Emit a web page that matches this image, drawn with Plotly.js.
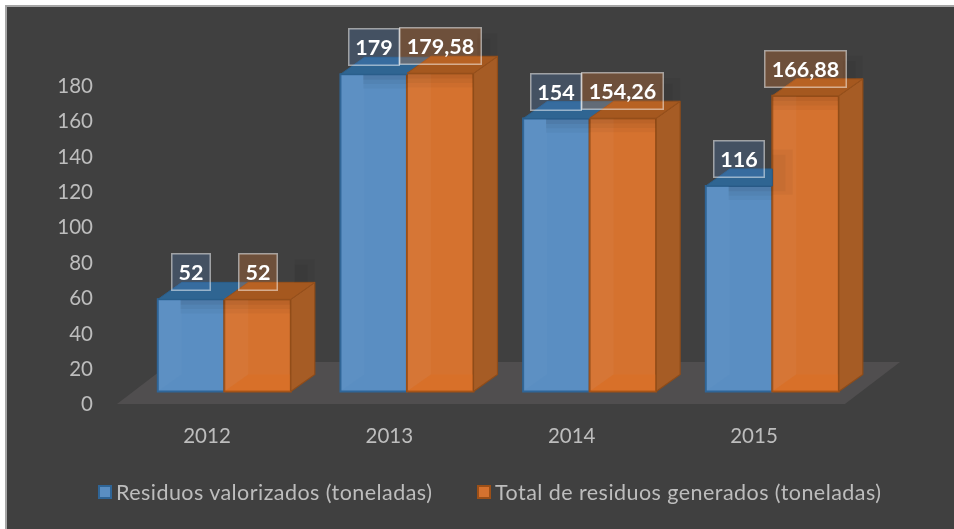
<!DOCTYPE html>
<html><head><meta charset="utf-8">
<script src="https://cdn.plot.ly/plotly-3.0.1.min.js"></script>
<style>html,body{margin:0;padding:0;background:#fff}#c{width:954px;height:529px;filter:blur(0.4px)}.legendtext{letter-spacing:0.45px}</style>
</head><body><div id="c"></div>
<script>
const years = ["2012","2013","2014","2015"];
const seriesA = "Residuos valorizados (toneladas)";
const seriesB = "Total de residuos generados (toneladas)";
const valorizados = [52,179,154,116];
const totales = [52,179.58,154.26,166.88];
const labelsA = ["52","179","154","116"];
const labelsB = ["52","179,58","154,26","166,88"];
const yTicks = [0,20,40,60,80,100,120,140,160,180];

const W=954,H=529, FONT='Lato, Carlito, sans-serif', TXT='#bdbdbd';
// front-plane scale vs. floor-edge scale (Excel 3-D projection)
const axisY0=404, barY0=391.5, axisPx=1.767, barPx=1.772;
const tickX0=207, tickStep=182.33, barX0=224.3, barStep=182.67;
const hw=66.5/barStep, dx=24/barStep, dy=17/barPx;
const x=years.map((_,i)=>i);
function poly(list){const X=[],Y=[];list.forEach(p=>{p.forEach(q=>{X.push(q[0]);Y.push(q[1]);});X.push(p[0][0]);Y.push(p[0][1]);X.push(null);Y.push(null);});return {x:X,y:Y};}
function face(list,fill,line,w){const d=poly(list);return {type:'scatter',mode:'lines',x:d.x,y:d.y,xaxis:'x2',yaxis:'y2',fill:'toself',fillcolor:fill,line:{color:line||'rgba(0,0,0,0)',width:w||0},hoverinfo:'skip',showlegend:false};}
function rect(a,b,c,d){return [[a,c],[b,c],[b,d],[a,d]];}

const blueTop=[],orangeTop=[],orangeSide=[],leftA=[],leftB=[],bottomB=[];
const shade1=[],shade2=[],shade3=[],halo1=[],halo2=[];
x.forEach(i=>{
  const va=valorizados[i],vb=totales[i],xl=i-hw,xm=i,xr=i+hw;
  const clipped=(vb-va>=dy);
  blueTop.push(clipped?[[xl,va],[xl+dx,va+dy],[xm,va+dy],[xm,va]]:[[xl,va],[xl+dx,va+dy],[xm+dx,va+dy],[xm,va]]);
  orangeTop.push([[xm,vb],[xm+dx,vb+dy],[xr+dx,vb+dy],[xr,vb]]);
  orangeSide.push([[xr,0],[xr+dx,dy],[xr+dx,vb+dy],[xr,vb]]);
  leftA.push([[xl,0],[xl+dx,dy],[xl+dx,va],[xl,va]]);
  leftB.push([[xm,0],[xm+dx,dy],[xm+dx,vb],[xm,vb]]);
  bottomB.push([[xm,0],[xm+dx,dy],[xr,dy],[xr,0]]);
  // soft label shadows, stepped
  [[shade1,3],[shade2,5.5],[shade3,8]].forEach(([arr,s])=>{
    arr.push(rect(xl+dx*0.95,xm,va,va-s));
    arr.push(rect(xm,xr,vb,vb-s));
  });
  halo1.push(rect(xr+0.02,xr+dx,vb+dy,vb+dy+13));
  halo2.push(rect(xr+0.02,xr+dx*0.7,vb+dy,vb+dy+10));
  if(clipped){
    halo1.push(rect(xm,xm+dx*0.85,va-5,va+dy+11));
    halo2.push(rect(xm,xm+dx*0.55,va-3,va+dy+8));
  }
});

const traces=[
 {type:'bar',name:seriesA,x:x,y:valorizados,xaxis:'x2',yaxis:'y2',marker:{color:'#5a8ec2',line:{color:'#2f6597',width:2}},hoverinfo:'skip'},
 {type:'bar',name:seriesB,x:x,y:totales,xaxis:'x2',yaxis:'y2',marker:{color:'#d5722f',line:{color:'#9c4f17',width:2}},hoverinfo:'skip'},
 {type:'scatter',mode:'lines',x:[-0.494,3.499,3.801,-0.192,-0.494],y:[0,0,23.8,23.8,0],fill:'toself',fillcolor:'#504e4f',line:{width:0},hoverinfo:'skip',showlegend:false},
 face(leftA,'rgba(255,255,255,0.018)'),
 face(leftB,'rgba(255,255,255,0.035)'),
 face(bottomB,'rgba(225,110,30,0.3)'),
 face(shade1,'rgba(0,0,0,0.05)'),
 face(shade2,'rgba(0,0,0,0.04)'),
 face(shade3,'rgba(0,0,0,0.035)'),
 face(orangeSide,'#a65c25','#8f4c19',1.2),
 face(blueTop,'#2f6592','#2a5e8a',1),
 face(orangeTop,'#a5581f','#96501c',1),
 face(halo1,'rgba(0,0,0,0.035)'),
 face(halo2,'rgba(0,0,0,0.035)'),
];
function note(i,text,offset,bg){
  const w={2:40,3:52,6:83}[text.length];
  return {xref:'x2',yref:'y2',x:i+offset,y:(offset<0?valorizados:totales)[i],yshift:27,text:'<b>'+text+'</b>',showarrow:false,
    font:{family:FONT,size:21.5,color:'#ffffff'},bgcolor:bg,bordercolor:'rgba(255,255,255,0.5)',borderwidth:1.5,width:w-3,height:35,borderpad:0,align:'center',valign:'middle'};
}
const anns=[];
x.forEach(i=>{anns.push(note(i,labelsA[i],-hw/2,'rgba(80,130,200,0.25)'));});
x.forEach(i=>{anns.push(note(i,labelsB[i],hw/2,'rgba(237,125,49,0.27)'));});

const layout={
 width:W,height:H,margin:{l:0,r:0,t:0,b:0},paper_bgcolor:'#ffffff',plot_bgcolor:'rgba(0,0,0,0)',
 font:{family:FONT,color:TXT,size:20},
 barmode:'group',bargap:1-2*66.5/barStep,bargroupgap:0,
 shapes:[{type:'rect',xref:'paper',yref:'paper',x0:6/W,x1:1.02,y0:-0.02,y1:1-6/H,fillcolor:'#404040',line:{color:'#a6a6a6',width:2},layer:'below'}],
 xaxis:{range:[-tickX0/tickStep,(W-tickX0)/tickStep],tickmode:'array',tickvals:x,ticktext:years,showgrid:false,zeroline:false,showline:false,ticks:'',ticklabelstandoff:17,tickfont:{family:FONT,size:20.5,color:TXT},anchor:'y'},
 xaxis2:{overlaying:'x',range:[-barX0/barStep,(W-barX0)/barStep],visible:false,anchor:'y2'},
 yaxis:{domain:[(H-axisY0)/H,1],range:[0,axisY0/axisPx],tickmode:'array',tickvals:yTicks,showgrid:false,zeroline:false,showline:false,ticks:'',tickfont:{family:FONT,size:20.5,color:TXT},anchor:'free',position:93/W,side:'left'},
 yaxis2:{overlaying:'y',range:[-(axisY0-barY0)/barPx,barY0/barPx],visible:false,anchor:'x2'},
 legend:{orientation:'h',x:85/W,xanchor:'left',y:(H-492)/H,yanchor:'middle',bgcolor:'rgba(0,0,0,0)',font:{family:FONT,size:21.5,color:TXT},entrywidthmode:'pixels',entrywidth:334,itemclick:false,itemdoubleclick:false,traceorder:'normal'},
 annotations:anns
};
Plotly.newPlot('c',traces,layout,{displayModeBar:false,staticPlot:true}).then(()=>{
  document.querySelectorAll('.legendtext').forEach(t=>{t.setAttribute('x',+t.getAttribute('x')-9);});
  document.querySelectorAll('.legend [clip-path], .legend[clip-path]').forEach(n=>n.removeAttribute('clip-path'));
  document.querySelectorAll('.legend .scrollbox').forEach(n=>{n.style.clipPath='none';n.removeAttribute('clip-path');});
});
</script></body></html>
